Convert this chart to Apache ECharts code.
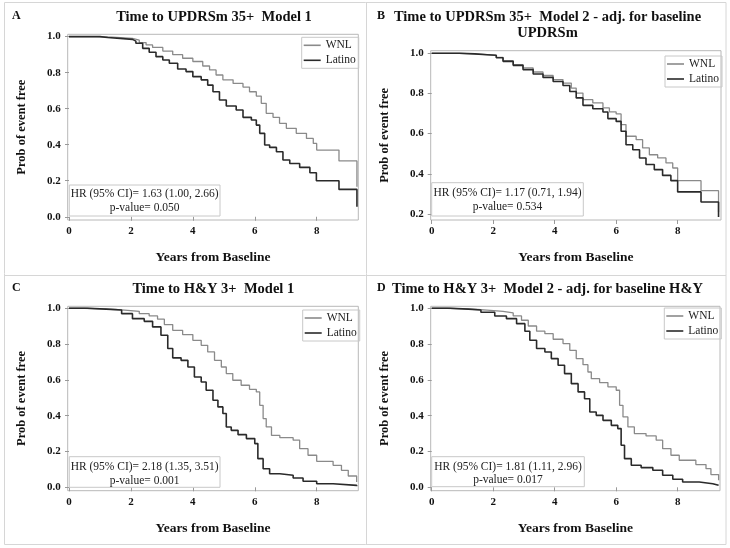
<!DOCTYPE html>
<html>
<head>
<meta charset="utf-8">
<script src="https://cdn.jsdelivr.net/npm/echarts@6/dist/echarts.min.js"></script>
<style>html,body{margin:0;padding:0;background:#fff}#c{width:730px;height:548px}</style>
</head>
<body>
<div id="c"></div>
<script>
// ---------- DATA ----------
const xTicks = [0, 2, 4, 6, 8];
const yTicksFull = [0, 0.2, 0.4, 0.6, 0.8, 1.0];
const yTicksB = [0.2, 0.4, 0.6, 0.8, 1.0];
const seriesNames = ['WNL', 'Latino'];
const panelLetters = ['A', 'B', 'C', 'D'];
const panelTitles = [
  'Time to UPDRSm 35+  Model 1',
  'Time to UPDRSm 35+  Model 2 - adj. for baseline\nUPDRSm',
  'Time to H&Y 3+  Model 1',
  'Time to H&Y 3+  Model 2 - adj. for baseline H&Y'
];
const hrTexts = [
  'HR (95% CI)= 1.63 (1.00, 2.66)',
  'HR (95% CI)= 1.17 (0.71, 1.94)',
  'HR (95% CI)= 2.18 (1.35, 3.51)',
  'HR (95% CI)= 1.81 (1.11, 2.96)'
];
const pTexts = ['p-value= 0.050', 'p-value= 0.534', 'p-value= 0.001', 'p-value= 0.017'];

// Kaplan-Meier step points [years, survival]
const A_WNL = [[0,1],[0.9,0.997],[1.4,0.993],[1.8,0.99],[2.05,0.98],[2.27,0.967],[2.49,0.954],[2.70,0.94],[3.03,0.92],[3.35,0.90],[3.67,0.88],[4.0,0.862],[4.32,0.837],[4.54,0.815],[4.75,0.787],[4.97,0.76],[5.3,0.74],[5.62,0.72],[5.83,0.694],[6.05,0.67],[6.21,0.63],[6.37,0.574],[6.59,0.552],[6.8,0.519],[7.02,0.491],[7.34,0.463],[7.67,0.435],[7.89,0.407],[8.0,0.37],[8.72,0.31],[9.3,0.167]];
const A_LAT = [[0,1],[1.0,0.995],[1.25,0.985],[2.05,0.975],[2.16,0.963],[2.38,0.935],[2.59,0.913],[2.81,0.889],[3.03,0.87],[3.24,0.852],[3.51,0.82],[3.78,0.806],[4.0,0.778],[4.27,0.76],[4.48,0.731],[4.65,0.694],[4.86,0.648],[5.08,0.615],[5.4,0.593],[5.62,0.552],[5.89,0.537],[6.05,0.509],[6.16,0.463],[6.32,0.398],[6.48,0.385],[6.7,0.361],[6.91,0.315],[7.13,0.296],[7.45,0.274],[7.78,0.244],[7.99,0.20],[8.72,0.152],[9.3,0.056]];
const B_WNL = [[0,1],[0.9,0.997],[1.4,0.993],[1.8,0.99],[2.1,0.98],[2.32,0.963],[2.65,0.944],[2.97,0.927],[3.3,0.907],[3.62,0.89],[3.95,0.869],[4.27,0.852],[4.54,0.827],[4.7,0.802],[4.92,0.769],[5.24,0.753],[5.57,0.728],[5.78,0.708],[6.0,0.698],[6.16,0.645],[6.32,0.587],[6.65,0.57],[6.86,0.529],[7.08,0.495],[7.35,0.479],[7.62,0.454],[7.84,0.429],[8.0,0.366],[8.76,0.316],[9.33,0.21]];
const B_LAT = [[0,1],[0.9,0.997],[1.4,0.993],[1.8,0.99],[2.1,0.978],[2.32,0.96],[2.65,0.94],[2.97,0.919],[3.3,0.897],[3.62,0.88],[3.95,0.86],[4.27,0.84],[4.49,0.81],[4.7,0.778],[4.92,0.741],[5.24,0.724],[5.57,0.708],[5.73,0.675],[6.0,0.661],[6.16,0.612],[6.32,0.545],[6.54,0.52],[6.76,0.479],[6.97,0.446],[7.24,0.421],[7.51,0.392],[7.78,0.366],[8.0,0.31],[8.76,0.26],[9.33,0.185]];
const C_WNL = [[0,1],[0.5,0.997],[1.0,0.993],[1.5,0.99],[1.8,0.983],[2.27,0.97],[2.59,0.957],[2.86,0.939],[3.08,0.909],[3.35,0.877],[3.67,0.853],[4.0,0.821],[4.27,0.793],[4.48,0.756],[4.7,0.709],[4.92,0.672],[5.08,0.635],[5.29,0.598],[5.56,0.57],[5.83,0.547],[6.05,0.533],[6.16,0.458],[6.27,0.384],[6.37,0.337],[6.54,0.29],[6.81,0.277],[7.24,0.263],[7.45,0.216],[7.72,0.179],[8.0,0.145],[8.53,0.123],[8.8,0.095],[9.02,0.063],[9.29,0.03]];
const C_LAT = [[0,1],[0.6,0.995],[1.2,0.99],[1.7,0.97],[2.05,0.942],[2.43,0.927],[2.7,0.896],[2.97,0.849],[3.19,0.775],[3.35,0.723],[3.62,0.709],[3.84,0.672],[4.05,0.616],[4.27,0.588],[4.43,0.542],[4.65,0.486],[4.81,0.449],[4.97,0.412],[5.08,0.337],[5.24,0.318],[5.46,0.294],[5.73,0.272],[6.0,0.244],[6.10,0.16],[6.27,0.104],[6.48,0.076],[6.81,0.067],[7.24,0.052],[7.56,0.034],[8.0,0.02],[8.53,0.011],[9.29,0.006]];
const D_WNL = [[0,1],[0.5,0.997],[1.0,0.993],[1.5,0.99],[1.8,0.983],[2.32,0.974],[2.65,0.957],[2.92,0.933],[3.14,0.901],[3.41,0.872],[3.68,0.858],[3.95,0.827],[4.27,0.803],[4.49,0.765],[4.7,0.719],[4.92,0.685],[5.08,0.644],[5.19,0.607],[5.46,0.585],[5.73,0.561],[6.0,0.542],[6.11,0.458],[6.22,0.393],[6.38,0.337],[6.59,0.30],[6.97,0.287],[7.3,0.263],[7.51,0.216],[7.78,0.179],[8.05,0.151],[8.59,0.127],[8.92,0.104],[9.08,0.071],[9.33,0.04]];
const D_LAT = [[0,1],[0.6,0.995],[1.2,0.99],[1.6,0.978],[2.05,0.957],[2.43,0.942],[2.76,0.914],[3.03,0.872],[3.19,0.821],[3.41,0.775],[3.68,0.756],[3.89,0.719],[4.11,0.682],[4.32,0.635],[4.54,0.579],[4.76,0.533],[4.97,0.495],[5.14,0.421],[5.35,0.402],[5.57,0.374],[5.84,0.346],[6.05,0.328],[6.16,0.235],[6.27,0.16],[6.49,0.123],[6.81,0.11],[7.19,0.095],[7.51,0.067],[7.84,0.045],[8.16,0.03],[8.7,0.02],[9.14,0.011],[9.33,0.011]];

// ---------- LAYOUT ----------
const FONT = '"Liberation Serif", "Times New Roman", serif';
const WNL_COLOR = '#8a8a8a', LAT_COLOR = '#2a2a2a', FRAME = '#b8b8b8';
const panels = [
  {grid:{left:67.7, top:34.3, width:290.6, height:185.7}, x:[-0.042, 9.344], y:[-0.018, 1.013], yt:yTicksFull, wnl:A_WNL, lat:A_LAT,
   legend:[301.7, 37.3], letter:[12, 9], title:[214, 9], box:[69.3, 185, 150.7, 31], t1:194, t2:208.3},
  {grid:{left:430.7, top:50.7, width:290.3, height:169.3}, x:[-0.033, 9.41], y:[0.17, 1.013], yt:yTicksB, wnl:B_WNL, lat:B_LAT,
   legend:[665, 56], letter:[377, 9], title:[547.5, 9], box:[431.7, 182.7, 151.6, 33.3], t1:193.3, t2:207.3},
  {grid:{left:67.7, top:306.3, width:290.6, height:184.4}, x:[-0.042, 9.344], y:[-0.019, 1.011], yt:yTicksFull, wnl:C_WNL, lat:C_LAT,
   legend:[302.7, 310], letter:[12, 281], title:[213.3, 281], box:[69.3, 456.7, 150.7, 30.6], t1:466.7, t2:480.7},
  {grid:{left:430.7, top:306.3, width:289.3, height:184.4}, x:[-0.033, 9.375], y:[-0.019, 1.011], yt:yTicksFull, wnl:D_WNL, lat:D_LAT,
   legend:[664.3, 308], letter:[377, 281], title:[547.5, 281], box:[431.7, 456.7, 152.6, 30], t1:466.7, t2:479.5}
];

const grid = [], xAxis = [], yAxis = [], series = [], legend = [], title = [], graphic = [];

// panel borders
const borderStyle = {stroke:'#d6d6d6', lineWidth:1};
graphic.push({type:'rect', shape:{x:4.5, y:2.5, width:721.5, height:542}, style:{fill:'none', stroke:'#d6d6d6', lineWidth:1}, silent:true});
graphic.push({type:'line', shape:{x1:366.5, y1:2.5, x2:366.5, y2:544.5}, style:borderStyle, silent:true});
graphic.push({type:'line', shape:{x1:4.5, y1:275.5, x2:726, y2:275.5}, style:borderStyle, silent:true});

panels.forEach((p, i) => {
  grid.push(Object.assign({show:true, borderColor:FRAME, borderWidth:1, containLabel:false}, p.grid));
  xAxis.push({
    gridIndex:i, type:'value', min:p.x[0], max:p.x[1],
    axisLine:{show:false},
    axisTick:{show:true, customValues:xTicks, length:4, lineStyle:{color:'#999'}},
    axisLabel:{customValues:xTicks, fontFamily:FONT, fontWeight:'bold', fontSize:11, color:'#111', margin:6},
    splitLine:{show:false},
    name:'Years from Baseline', nameLocation:'middle', nameGap:31,
    nameTextStyle:{fontFamily:FONT, fontWeight:'bold', fontSize:13.5, color:'#111'}
  });
  yAxis.push({
    gridIndex:i, type:'value', min:p.y[0], max:p.y[1],
    axisLine:{show:false},
    axisTick:{show:true, customValues:p.yt, length:4, lineStyle:{color:'#999'}},
    axisLabel:{customValues:p.yt, fontFamily:FONT, fontWeight:'bold', fontSize:11, color:'#111', margin:7,
               formatter:v => v.toFixed(1)},
    splitLine:{show:false},
    name:'Prob of event free', nameLocation:'middle', nameGap:39, nameRotate:90,
    nameTextStyle:{fontFamily:FONT, fontWeight:'bold', fontSize:12.5, color:'#111'}
  });
  series.push({
    name:seriesNames[0], type:'line', step:'end', xAxisIndex:i, yAxisIndex:i, data:p.wnl,
    showSymbol:false, symbol:'none', lineStyle:{color:WNL_COLOR, width:1.3}, itemStyle:{color:WNL_COLOR}, z:2
  });
  series.push({
    name:seriesNames[1], type:'line', step:'end', xAxisIndex:i, yAxisIndex:i, data:p.lat,
    showSymbol:false, symbol:'none', lineStyle:{color:LAT_COLOR, width:1.6}, itemStyle:{color:LAT_COLOR}, z:3
  });
  legend.push({
    data:seriesNames, orient:'vertical', left:p.legend[0], top:p.legend[1],
    icon:'rect', itemWidth:17, itemHeight:1.6, itemGap:3,
    padding:[2, 3, 2, 2], borderColor:'#c8c8c8', borderWidth:1, selectedMode:false,
    textStyle:{fontFamily:FONT, fontSize:11.5, color:'#222'}
  });
  title.push({
    text:panelTitles[i], left:p.title[0], top:p.title[1], textAlign:'center', padding:0,
    textStyle:{fontFamily:FONT, fontWeight:'bold', fontSize:14.5, color:'#111', lineHeight:16}
  });
  title.push({
    text:panelLetters[i], left:p.letter[0], top:p.letter[1] + 1, padding:0,
    textStyle:{fontFamily:FONT, fontWeight:'bold', fontSize:12, color:'#111'}
  });
  const b = p.box, cx = b[0] + b[2] / 2;
  graphic.push({type:'rect', shape:{x:b[0], y:b[1], width:b[2], height:b[3]},
    style:{fill:'#fff', stroke:'#c8c8c8', lineWidth:1}, z:10, silent:true});
  graphic.push({type:'text', x:cx, y:p.t1, z:11, silent:true,
    style:{text:hrTexts[i], fontFamily:FONT, fontSize:11.5, fill:'#222', textAlign:'center', textVerticalAlign:'middle'}});
  graphic.push({type:'text', x:cx, y:p.t2, z:11, silent:true,
    style:{text:pTexts[i], fontFamily:FONT, fontSize:11.5, fill:'#222', textAlign:'center', textVerticalAlign:'middle'}});
});

const chart = echarts.init(document.getElementById('c'), null, {renderer:'canvas'});
chart.setOption({
  backgroundColor:'#fff', animation:false,
  title, grid, xAxis, yAxis, series, legend, graphic
});
</script>
</body>
</html>
